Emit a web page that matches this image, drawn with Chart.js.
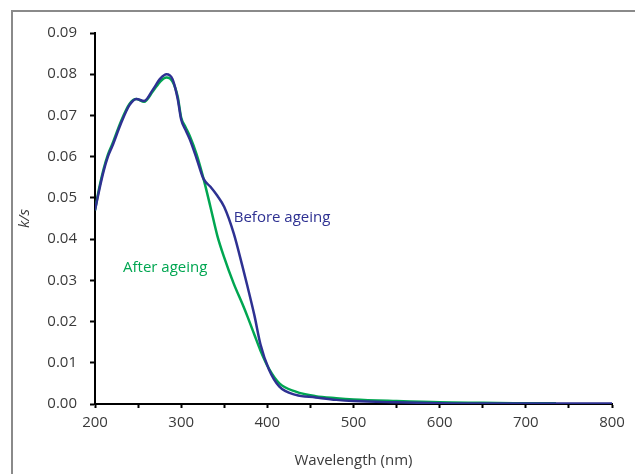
<!DOCTYPE html>
<html>
<head>
<meta charset="utf-8">
<script src="https://cdn.jsdelivr.net/npm/chart.js@4"></script>
<style>
  body { margin: 0; background: #fff; }
  #frame {
    position: absolute; left: 11px; top: 10px; width: 640px; height: 480px;
    border-left: 2px solid #8a8a8a; border-top: 2px solid #8a8a8a;
  }
  #chart { position: absolute; left: 0; top: 0; }
</style>
</head>
<body>
<div id="frame"></div>
<canvas id="chart" width="635" height="474"></canvas>
<script>
// wavelength (nm)
const wavelengths = [200, 205, 210, 215, 220, 230, 240, 248, 257, 267, 276, 283, 290, 296, 300, 305, 310, 318, 326, 334, 342, 350, 361, 371, 377, 385, 392, 402, 414, 433, 456, 480, 500, 550, 600, 650, 700, 735, 800];

// k/s before ageing
const beforeAgeing = [0.047, 0.052, 0.0565, 0.060, 0.0625, 0.068, 0.0725, 0.0740, 0.0735, 0.0762, 0.0790, 0.0800, 0.0788, 0.0740, 0.0690, 0.0665, 0.0642, 0.0595, 0.0546, 0.0527, 0.0505, 0.0478, 0.0414, 0.0335, 0.0285, 0.0215, 0.0145, 0.0083, 0.0042, 0.0022, 0.0016, 0.0010, 0.0007, 0.0004, 0.0002, 0.0001, 0.0001, 0.0001, 0.0001];

// k/s after ageing (measured up to ~735 nm)
const afterAgeing = [0.047, 0.0525, 0.057, 0.0605, 0.063, 0.0685, 0.0728, 0.0740, 0.0733, 0.0758, 0.0783, 0.0792, 0.0782, 0.0745, 0.0695, 0.0672, 0.0650, 0.0605, 0.0546, 0.0478, 0.0408, 0.0355, 0.0292, 0.0243, 0.0212, 0.0168, 0.0130, 0.0085, 0.0050, 0.0030, 0.0019, 0.0014, 0.0011, 0.0007, 0.0004, 0.0003, 0.0002, 0.0002, null];

const seriesLabels = ["Before ageing", "After ageing"];
const seriesColors = ["#2e3192", "#00a651"];

const yTickLabels = ["0.00", "0.01", "0.02", "0.03", "0.04", "0.05", "0.06", "0.07", "0.08", "0.09"];
const xTickLabels = ["200", "300", "400", "500", "600", "700", "800"];

function toPoints(ys) {
  return wavelengths.map(function (x, i) { return { x: x, y: ys[i] }; });
}

// in-plot series labels
const seriesLabelPlugin = {
  id: "seriesLabels",
  afterDatasetsDraw: function (chart) {
    const ctx = chart.ctx;
    const xs = chart.scales.x;
    const ys = chart.scales.y;
    ctx.save();
    ctx.font = "15px 'Open Sans'";
    ctx.textBaseline = "middle";
    ctx.textAlign = "left";
    ctx.fillStyle = seriesColors[0];
    ctx.fillText(seriesLabels[0], xs.getPixelForValue(361), ys.getPixelForValue(0.0451));
    ctx.fillStyle = seriesColors[1];
    ctx.fillText(seriesLabels[1], xs.getPixelForValue(232.5), ys.getPixelForValue(0.0330));
    ctx.restore();
  }
};

const ctx = document.getElementById("chart").getContext("2d");

new Chart(ctx, {
  type: "line",
  data: {
    datasets: [
      {
        label: seriesLabels[0],
        data: toPoints(beforeAgeing),
        borderColor: seriesColors[0],
        borderWidth: 2.5,
        pointRadius: 0,
        cubicInterpolationMode: "monotone",
        fill: false
      },
      {
        label: seriesLabels[1],
        data: toPoints(afterAgeing),
        borderColor: seriesColors[1],
        borderWidth: 2.5,
        pointRadius: 0,
        cubicInterpolationMode: "monotone",
        fill: false,
        spanGaps: false
      }
    ]
  },
  options: {
    responsive: false,
    animation: false,
    layout: { padding: { left: 0, right: 23, top: 33, bottom: 0 } },
    plugins: {
      legend: { display: false },
      tooltip: { enabled: false }
    },
    scales: {
      x: {
        type: "linear",
        min: 200,
        max: 800,
        afterFit: function (scale) { scale.height = 70; },
        border: { color: "#000", width: 2 },
        grid: { drawOnChartArea: false, tickLength: 4, tickColor: "#000", tickWidth: 2 },
        ticks: {
          stepSize: 50,
          padding: 6,
          color: "#3a3a3a",
          font: { family: "'Open Sans'", size: 15 },
          maxRotation: 0,
          callback: function (v) {
            const i = xTickLabels.indexOf(String(v));
            return i >= 0 ? xTickLabels[i] : "";
          }
        },
        title: {
          display: true,
          text: "Wavelength (nm)",
          color: "#3a3a3a",
          font: { family: "'Open Sans'", size: 15 },
          padding: { top: 0, bottom: 4 }
        }
      },
      y: {
        min: 0,
        max: 0.09,
        afterFit: function (scale) { scale.width = 95; },
        border: { color: "#000", width: 2 },
        grid: { drawOnChartArea: false, tickLength: 5, tickColor: "#000", tickWidth: 2 },
        ticks: {
          stepSize: 0.005,
          padding: 13,
          color: "#3a3a3a",
          font: { family: "'Open Sans'", size: 15 },
          callback: function (v) {
            const k = Math.round(v * 1000);
            return k % 10 === 0 ? yTickLabels[k / 10] : "";
          }
        },
        title: {
          display: true,
          text: "k/s",
          color: "#3a3a3a",
          font: { family: "'Open Sans'", size: 15, style: "italic" },
          padding: { top: 16, bottom: 0 }
        }
      }
    }
  },
  plugins: [seriesLabelPlugin]
});
</script>
</body>
</html>
